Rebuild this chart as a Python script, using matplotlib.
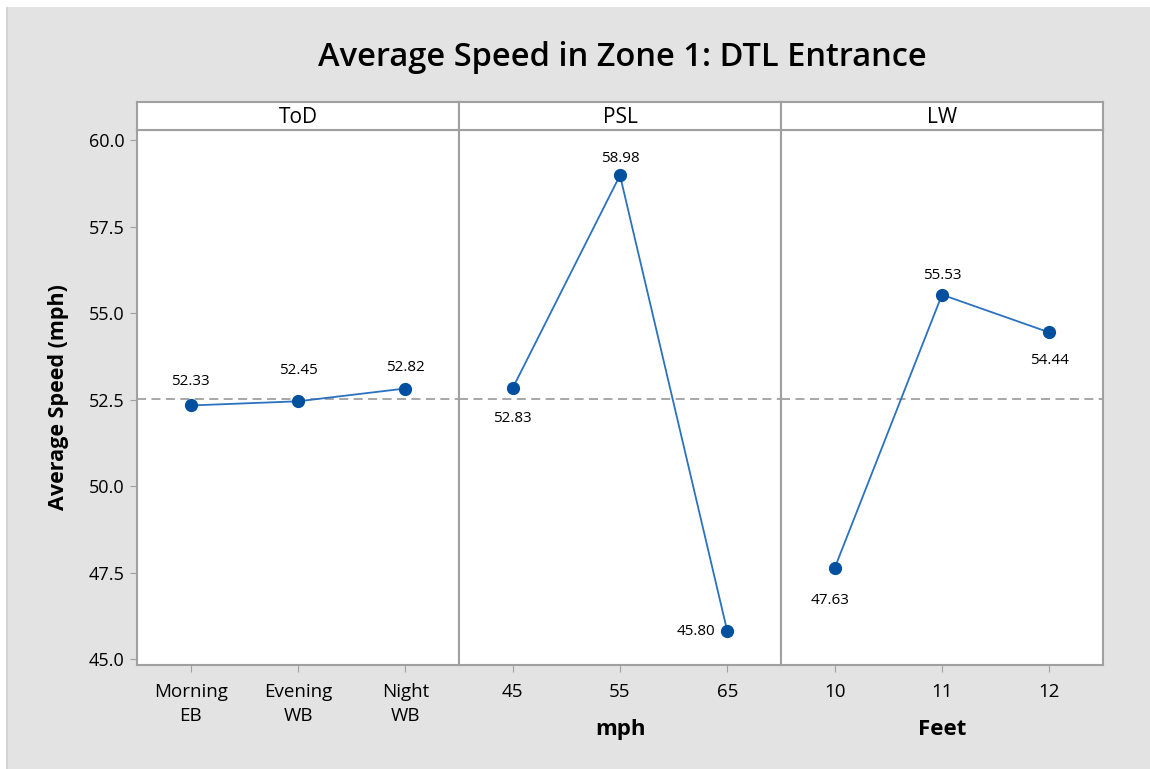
import matplotlib
matplotlib.use("Agg")
import matplotlib.pyplot as plt
from matplotlib.patches import Rectangle

plt.rcParams['font.family'] = ['Open Sans', 'DejaVu Sans']

title = "Average Speed in Zone 1: DTL Entrance"
ylabel = "Average Speed (mph)"
panels = ["ToD", "PSL", "LW"]
xlabels = ["", "mph", "Feet"]
tod_cats = ["Morning\nEB", "Evening\nWB", "Night\nWB"]
tod_vals = [52.33, 52.45, 52.82]
psl_cats = ["45", "55", "65"]
psl_vals = [52.83, 58.98, 45.80]
lw_cats = ["10", "11", "12"]
lw_vals = [47.63, 55.53, 54.44]
grand_mean = 52.53
yticks = [45.0, 47.5, 50.0, 52.5, 55.0, 57.5, 60.0]

# label offsets (points) relative to each marker
offsets = [[(0, 17), (0, 22), (0, 15)],
           [(0, -22), (0, 12), (-9, 0)],
           [(-3, -23), (0, 14), (0, -20)]]

cats_all = [tod_cats, psl_cats, lw_cats]
vals_all = [tod_vals, psl_vals, lw_vals]

bg = "#e3e3e3"
edge = "#a0a0a0"
fig = plt.figure(figsize=(11.5, 7.69), dpi=100, facecolor=bg)
# white margins on top and left, as in the reference screenshot
fig.patches.append(Rectangle((0, 1 - 7 / 769), 1, 7 / 769, transform=fig.transFigure,
                             facecolor="white", edgecolor="none", zorder=-5))
fig.patches.append(Rectangle((0, 0), 6 / 1150, 1, transform=fig.transFigure,
                             facecolor="white", edgecolor="none", zorder=-5))
fig.patches.append(Rectangle((6 / 1150, 0), 2 / 1150, 1 - 7 / 769, transform=fig.transFigure,
                             facecolor="#d4d4d4", edgecolor="none", zorder=-5))

left = 137 / 1150
pw = 322 / 1150
bottom = 1 - 665 / 769
top = 1 - 130 / 769
htop = 1 - 102 / 769

for i in range(3):
    ax = fig.add_axes([left + i * pw, bottom, pw, top - bottom])
    hx = fig.add_axes([left + i * pw, top, pw, htop - top])
    hx.set_xticks([]); hx.set_yticks([])
    hx.set_facecolor("white")
    for s in hx.spines.values():
        s.set_color(edge); s.set_linewidth(1.5)
    hx.text(0.5, 0.45, panels[i], ha="center", va="center", fontsize=15, transform=hx.transAxes)

    x = list(range(1, 4))
    ax.plot(x, vals_all[i], color="#2a72c0", lw=1.3, zorder=3)
    ax.plot(x, vals_all[i], 'o', color="#0050a0", ms=8.5, zorder=4)
    ax.axhline(grand_mean, color="#a0a0a0", ls=(0, (5, 3)), lw=1.3, zorder=2)
    for xi, v, (dx, dy) in zip(x, vals_all[i], offsets[i]):
        ha = "right" if dy == 0 else "center"
        ax.annotate(f"{v:.2f}", (xi, v), xytext=(dx, dy), textcoords="offset points",
                    ha=ha, va="center", fontsize=11)
    ax.set_xlim(0.5, 3.5)
    ax.set_ylim(44.83, 60.29)
    ax.set_xticks(x)
    ax.set_xticklabels(cats_all[i], fontsize=13.5, linespacing=1.45)
    ax.tick_params(axis="x", length=5, color=edge, pad=8)
    for s in ax.spines.values():
        s.set_color(edge); s.set_linewidth(1.5)
    if i == 0:
        ax.set_yticks(yticks)
        ax.set_yticklabels([f"{t:.1f}" for t in yticks], fontsize=13)
        ax.tick_params(axis="y", length=5, color=edge, pad=4)
        ax.set_ylabel(ylabel, fontsize=15.5, fontweight="bold", labelpad=14)
    else:
        ax.set_yticks([])
    if xlabels[i]:
        ax.set_xlabel(xlabels[i], fontsize=16, fontweight="bold", labelpad=13)

fig.text(622 / 1150, 1 - 58 / 769, title, ha="center", va="center", fontsize=23.5,
         fontweight="semibold")

fig.savefig("out.png", dpi=100, facecolor=bg)
